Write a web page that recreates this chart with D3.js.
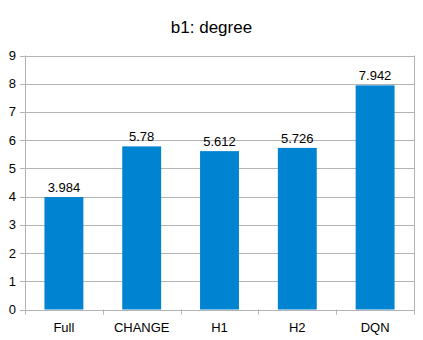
<!DOCTYPE html>
<html>
<head>
<meta charset="utf-8">
<script src="https://cdn.jsdelivr.net/npm/d3@7"></script>
<style>
  body { margin: 0; background: #fff; }
  text { font-family: "Liberation Sans", Arial, sans-serif; fill: #000; }
</style>
</head>
<body>
<div id="chart"></div>
<script>
let categories = ["Full", "CHANGE", "H1", "H2", "DQN"];
let values = [3.984, 5.78, 5.612, 5.726, 7.942];
let valueLabels = ["3.984", "5.78", "5.612", "5.726", "7.942"];
let yTicks = [0, 1, 2, 3, 4, 5, 6, 7, 8, 9];
let title = "b1: degree";

let width = 423, height = 340;
let margin = { top: 55.5, right: 9, bottom: 30.5, left: 25 };

let svg = d3.select("#chart").append("svg")
    .attr("width", width)
    .attr("height", height);

let x = d3.scaleBand()
    .domain(categories)
    .range([margin.left, width - margin.right])
    .paddingInner(0.5)
    .paddingOuter(0.25);

let y = d3.scaleLinear()
    .domain([0, 9])
    .range([height - margin.bottom, margin.top]);

// gridlines
svg.append("g")
    .selectAll("line")
    .data(yTicks)
    .join("line")
    .attr("x1", margin.left - 5)
    .attr("x2", width - margin.right)
    .attr("y1", d => Math.round(y(d)) + 0.5)
    .attr("y2", d => Math.round(y(d)) + 0.5)
    .attr("stroke", "#b3b3b3");

// y axis line
svg.append("line")
    .attr("x1", margin.left + 0.5).attr("x2", margin.left + 0.5)
    .attr("y1", margin.top).attr("y2", height - margin.bottom)
    .attr("stroke", "#b3b3b3");

// right border line
svg.append("line")
    .attr("x1", width - margin.right + 0.5).attr("x2", width - margin.right + 0.5)
    .attr("y1", margin.top).attr("y2", height - margin.bottom + 5)
    .attr("stroke", "#b3b3b3");

// category boundary ticks
let step = x.step();
let bounds = d3.range(categories.length + 1).map(i => margin.left + i * step);
svg.append("g")
    .selectAll("line")
    .data(bounds)
    .join("line")
    .attr("x1", d => Math.round(d) + 0.5)
    .attr("x2", d => Math.round(d) + 0.5)
    .attr("y1", y(0))
    .attr("y2", y(0) + 5)
    .attr("stroke", "#b3b3b3");

// y tick labels
svg.append("g")
    .selectAll("text")
    .data(yTicks)
    .join("text")
    .attr("x", margin.left - 9)
    .attr("y", d => y(d) + 4.5)
    .attr("text-anchor", "end")
    .style("font-size", "13px")
    .text(d => d);

// bars
svg.append("g")
    .selectAll("rect")
    .data(values)
    .join("rect")
    .attr("x", (d, i) => x(categories[i]))
    .attr("y", d => y(d))
    .attr("width", x.bandwidth())
    .attr("height", d => y(0) - y(d))
    .attr("fill", "#0084d1");

// value labels
svg.append("g")
    .selectAll("text")
    .data(values)
    .join("text")
    .attr("x", (d, i) => x(categories[i]) + x.bandwidth() / 2)
    .attr("y", d => y(d) - 5)
    .attr("text-anchor", "middle")
    .style("font-size", "13px")
    .text((d, i) => valueLabels[i]);

// x labels
svg.append("g")
    .selectAll("text")
    .data(categories)
    .join("text")
    .attr("x", d => x(d) + x.bandwidth() / 2)
    .attr("y", height - margin.bottom + 22)
    .attr("text-anchor", "middle")
    .style("font-size", "13px")
    .text(d => d);

// title
svg.append("text")
    .attr("x", width / 2)
    .attr("y", 33)
    .attr("text-anchor", "middle")
    .style("font-size", "17px")
    .text(title);
</script>
</body>
</html>
